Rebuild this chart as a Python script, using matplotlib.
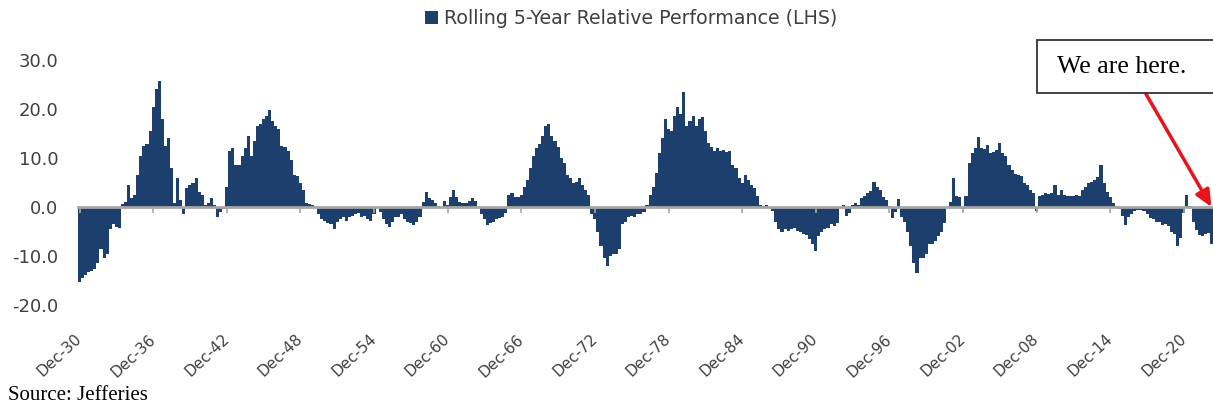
import pandas as pd
import numpy as np
import matplotlib
matplotlib.use("Agg")
import matplotlib.pyplot as plt
import matplotlib.dates as mdates
from matplotlib.patches import Rectangle

OUT_FILE = "out.png"

NAVY = "#1C3F6E"
GREY = "#A6A6A6"
TXT  = "#404040"

# Rolling 5-year relative performance, quarter-end readings from Dec-1930
perf_1930s = [-15.3, -14.5, -13.8, -13.2, -13.0, -12.6, -11.5, -8.5, -10.5, -9.5,
              -4.5, -3.5, -4.0, -4.3, 0.6, 1.0, 4.5, 1.8, 2.5, 6.5,
              10.5, 12.5, 12.8, 15.5, 20.5, 24.0, 25.8, 18.0, 12.5, 14.0,
              8.0, 0.8, 6.0, 1.5, -1.5, 3.8, 4.5]
perf_1940s = [5.0, 6.0, 3.0, 2.5, 0.5, 0.8, 1.8, 0.5, -2.0, -1.0,
              -0.5, 4.0, 11.5, 12.0, 8.5, 8.5, 10.5, 12.0, 14.5, 10.5,
              13.5, 16.5, 17.0, 18.0, 18.5, 19.8, 17.5, 16.5, 16.0, 12.5,
              12.3, 11.5, 9.5, 6.5, 6.3, 5.0, 3.5, 0.8, 0.6, 0.5]
perf_1950s = [-0.3, -1.5, -2.5, -2.8, -3.2, -3.5, -4.5, -3.0, -2.5, -2.0,
              -2.8, -2.0, -1.8, -1.5, -1.2, -2.0, -1.8, -2.5, -2.8, -1.5,
              -0.3, -1.0, -2.5, -3.5, -4.0, -3.0, -2.0, -2.0, -1.5, -2.5,
              -3.0, -3.3, -3.6, -3.0, -2.0, 1.0, 3.0, 1.8, 1.5, 0.8]
perf_1960s = [0.2, -0.3, 1.2, 0.5, 2.0, 3.5, 2.0, 1.0, 0.8, 0.8,
              1.2, 1.8, 1.2, -0.3, -1.5, -2.5, -3.6, -3.3, -3.0, -2.5,
              -2.3, -2.0, -1.2, 2.5, 2.8, 2.0, 2.0, 2.5, 4.0, 5.5,
              8.0, 10.5, 12.0, 12.8, 14.5, 16.5, 17.0, 14.5, 13.5, 12.3]
perf_1970s = [10.0, 9.0, 6.5, 6.0, 5.0, 5.2, 6.0, 4.5, 3.5, 2.5,
              -1.5, -2.5, -5.0, -8.0, -10.5, -12.0, -10.0, -9.5, -9.5, -8.5,
              -3.5, -3.0, -2.0, -1.8, -2.0, -1.5, -1.5, -1.0, 0.5, 2.5,
              4.0, 7.0, 11.0, 14.0, 18.0, 16.0, 15.5, 18.5, 20.5, 19.0]
perf_1980s = [23.5, 16.5, 17.5, 18.5, 16.5, 18.0, 18.3, 15.5, 13.0, 12.3,
              11.5, 12.0, 11.5, 11.6, 11.2, 11.5, 8.5, 8.0, 6.0, 5.0,
              6.5, 5.5, 4.5, 3.8, 2.2, 0.5, 0.3, 0.4, -0.3, -0.8,
              -3.0, -4.5, -5.0, -4.5, -4.8, -4.5, -4.2, -4.8, -5.0, -5.5]
perf_1990s = [-5.8, -6.5, -7.5, -9.0, -6.0, -5.0, -4.5, -4.2, -3.5, -3.8,
              -3.2, -0.3, 0.5, -1.9, -1.2, 0.5, 0.8, 0.5, 1.8, 2.2,
              2.8, 3.2, 5.2, 4.0, 3.5, 2.0, 1.5, 0.3, -2.2, -1.0,
              1.6, -2.0, -3.0, -5.0, -8.0, -11.5, -13.5, -10.5, -10.5, -9.5]
perf_2000s = [-7.5, -7.5, -7.0, -6.0, -5.0, -3.2, -0.3, 1.0, 5.9, 2.2,
              2.0, -0.5, 2.2, 9.0, 11.0, 12.0, 14.3, 12.0, 11.8, 12.6,
              11.0, 11.3, 11.6, 13.0, 11.0, 10.5, 8.6, 7.6, 6.8, 6.5,
              6.3, 5.0, 4.5, 3.5, 2.8, -0.9, 2.2, 2.5, 2.8, 2.6]
perf_2010s = [2.8, 4.5, 2.5, 3.5, 2.5, 2.3, 2.3, 2.2, 2.4, 2.3,
              3.5, 4.0, 4.8, 5.2, 5.5, 6.2, 8.6, 4.9, 3.0, 2.0,
              0.8, 0.3, -0.5, -1.9, -3.6, -2.0, -1.5, -0.8, -0.7, -0.6,
              -0.8, -1.5, -2.3, -2.5, -3.0, -3.0, -3.6, -3.5, -3.8, -5.0]
perf_2020s = [-5.5, -8.0, -6.3, -1.2, 2.5, 0.2, -3.0, -4.6, -5.8, -6.0,
              -5.5, -5.3, -7.6]

values = np.array(perf_1930s + perf_1940s + perf_1950s + perf_1960s + perf_1970s
                  + perf_1980s + perf_1990s + perf_2000s + perf_2010s + perf_2020s)
dates = pd.date_range("1930-12-31", periods=len(values), freq=pd.offsets.QuarterEnd())
xnum = mdates.date2num(dates.to_pydatetime())

tick_years = list(range(1930, 2021, 6))
tick_dates = pd.to_datetime([f"{y}-12-31" for y in tick_years])
tick_x = mdates.date2num(tick_dates.to_pydatetime())
tick_labels = [d.strftime("%b-%y") for d in tick_dates]

W, H = 1213, 407
plt.rcParams["font.family"] = ["DejaVu Sans"]

fig = plt.figure(figsize=(W / 100, H / 100), dpi=100, facecolor="white")
ax = fig.add_axes([78 / W, 1 - 305 / H, (W - 78) / W, 245 / H])

ax.bar(xnum, values, width=92, color=NAVY, linewidth=0,
       label="Rolling 5-Year Relative Performance (LHS)")

ax.set_xlim(xnum[0] - 46, xnum[-1] + 46)
ax.set_ylim(-20, 30)
ax.set_yticks(np.arange(-20, 31, 10))
ax.set_yticklabels([f"{v:.1f}" for v in np.arange(-20, 31, 10)])
ax.tick_params(axis="y", length=0, pad=14, labelsize=13, labelcolor=TXT)

for side in ["top", "right", "left"]:
    ax.spines[side].set_visible(False)
ax.spines["bottom"].set_position(("data", 0))
ax.spines["bottom"].set_color(GREY)
ax.spines["bottom"].set_linewidth(2)
ax.set_xticks(tick_x)
ax.tick_params(axis="x", length=4, width=1.2, color=GREY, labelbottom=False)

# date labels sit at the bottom edge, not on the zero line
sec = ax.secondary_xaxis("bottom")
sec.set_xticks(tick_x)
sec.set_xticklabels(tick_labels)
sec.tick_params(length=0, pad=23, labelsize=11, labelcolor=TXT)
plt.setp(sec.get_xticklabels(), rotation=43, ha="right", va="center",
         rotation_mode="anchor")
sec.spines["bottom"].set_visible(False)

fig.legend(loc="upper center", bbox_to_anchor=(631 / W, 1 + 8 / H), frameon=False,
           fontsize=13.7, handlelength=0.7, handleheight=0.7, handletextpad=0.3,
           labelcolor=TXT)

# call-out box and arrow to the latest reading
fig.patches.append(Rectangle((1037 / W, 1 - 93 / H), 230 / W, 53 / H,
                             transform=fig.transFigure, facecolor="white",
                             edgecolor="#333333", linewidth=1.3))
fig.text(1057 / W, 1 - 67 / H, "We are here.", family="Liberation Serif",
         fontsize=18.5, color="black", ha="left", va="center")
ax.annotate("", xy=(xnum[-1], 0), xycoords="data",
            xytext=(1146, H - 94), textcoords="figure pixels",
            arrowprops=dict(arrowstyle="-|>,head_length=1.0,head_width=0.45",
                            color="#E8141B", lw=2.5, shrinkA=0, shrinkB=0))

fig.text(8 / W, 1 - 395 / H, "Source: Jefferies", family="Liberation Serif",
         fontsize=15, color="black", ha="left", va="center")

fig.savefig(OUT_FILE, dpi=100, facecolor="white")
plt.close(fig)
